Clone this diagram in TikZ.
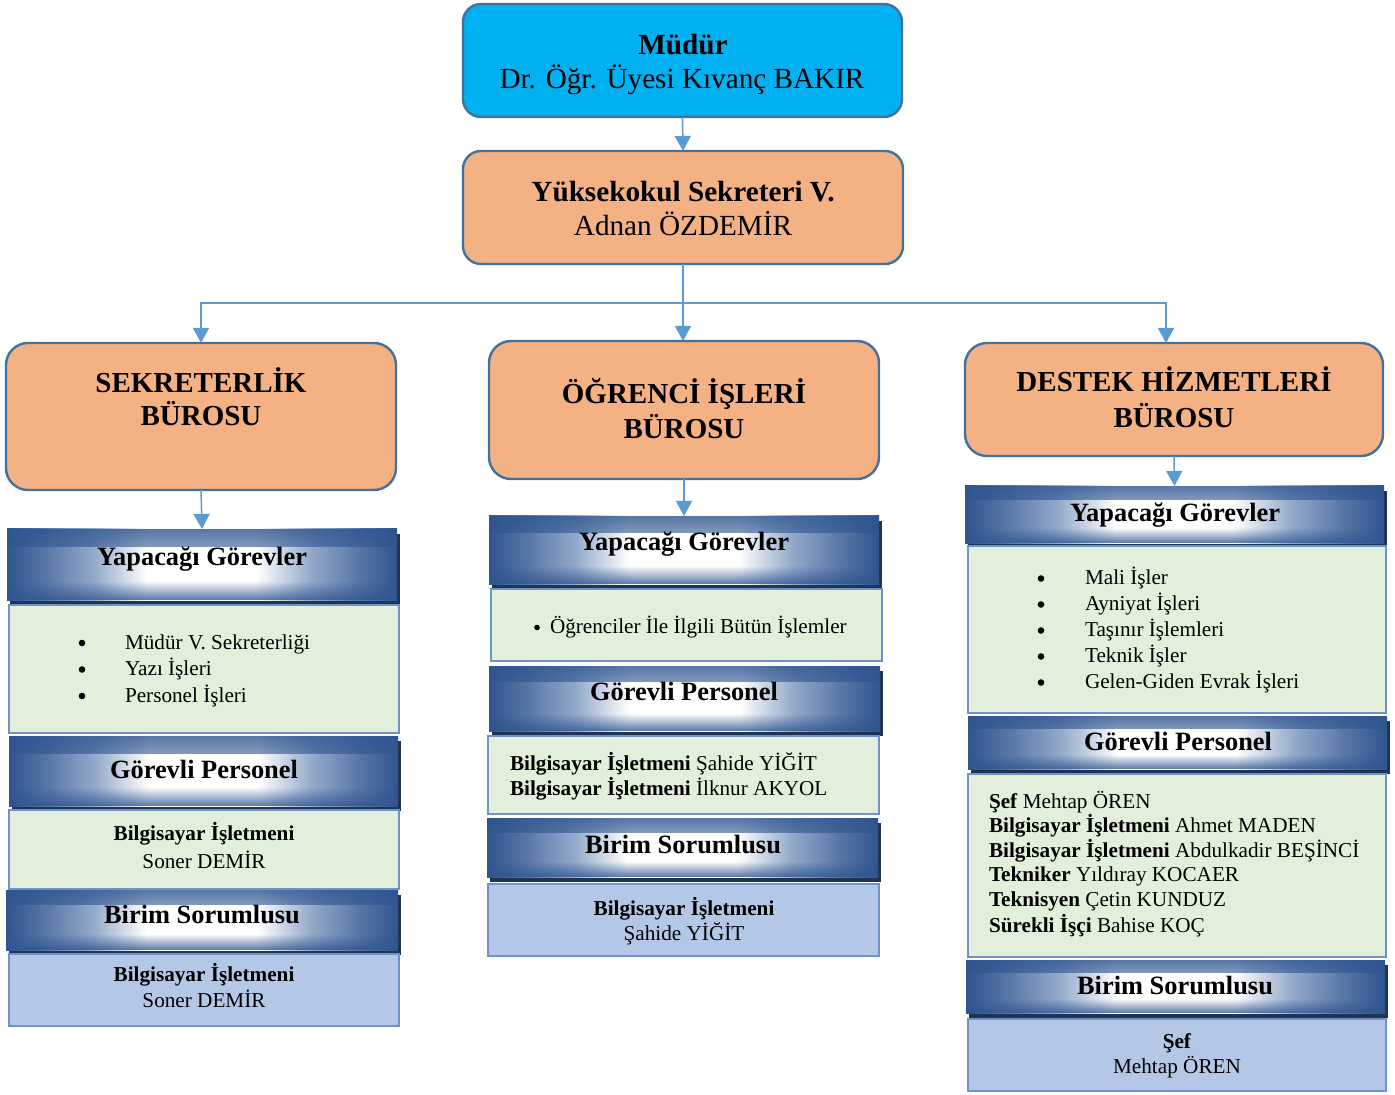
\documentclass[tikz,border=0pt]{standalone}
\usepackage{fontspec}
\setmainfont{Liberation Serif}
\usetikzlibrary{fadings,shadows,calc,arrows.meta}
\definecolor{cyanbox}{HTML}{00B0F0}
\definecolor{orangebox}{HTML}{F4B183}
\definecolor{boxborder}{HTML}{41719C}
\definecolor{arrowc}{HTML}{5B9BD5}
\definecolor{greenbox}{HTML}{E2EFDA}
\definecolor{bluebox}{HTML}{B4C7E7}
\definecolor{hbdark}{HTML}{2F5590}
\definecolor{hbmid}{HTML}{92A8CA}
\definecolor{hshadow}{HTML}{1F3352}
\definecolor{thinborder}{HTML}{6F93C8}
\pgfdeclarehorizontalshading{hbar}{100bp}{color(0bp)=(hbdark); color(25bp)=(hbdark); color(30bp)=(hbdark!80!white); color(36bp)=(hbmid); color(43bp)=(white); color(57bp)=(white); color(64bp)=(hbmid); color(70bp)=(hbdark!80!white); color(75bp)=(hbdark); color(100bp)=(hbdark)}
\tikzfading[name=fadedown, top color=transparent!0, bottom color=transparent!100]
\tikzfading[name=fadeup, top color=transparent!100, bottom color=transparent!0]
\newcommand\mybox[7]{\node[#6, minimum width={(#4-#2)*0.5pt}, minimum height={(#5-#3)*0.5pt}] (#1) at ({(#2+#4)/2},{(#3+#5)/2}) {#7};}
\tikzset{
  every node/.style={inner sep=0pt, outer sep=0pt},
  topbox/.style={draw=boxborder, line width=1.2pt, rounded corners=9pt},
  burobox/.style={draw=boxborder, line width=1.2pt, rounded corners=11pt, fill=orangebox},
  greenrect/.style={draw=thinborder, line width=0.9pt, fill=greenbox},
  bluerect/.style={draw=thinborder, line width=0.9pt, fill=bluebox},
  hdr/.style={shading=hbar, general shadow={fill=hshadow, shadow xshift=1.5pt, shadow yshift=-2.5pt},
    path picture={
      \fill[hbdark, opacity=0.8, path fading=fadedown] (path picture bounding box.north west) rectangle ($(path picture bounding box.north east)!0.25!(path picture bounding box.south east)$);
      \fill[hbdark, opacity=0.8, path fading=fadeup] (path picture bounding box.south west) rectangle ($(path picture bounding box.south east)!0.27!(path picture bounding box.north east)$);
    }},
  conn/.style={draw=arrowc, line width=0.75pt},
  arr/.style={conn, -{Triangle[width=8pt,length=7.5pt]}},
  ttop/.style={anchor=base, font=\fontsize{14.6}{17}\selectfont},
  tburo/.style={anchor=base, font=\fontsize{14.5}{17}\selectfont\bfseries},
  thdr/.style={anchor=base, font=\fontsize{13.2}{15}\selectfont\bfseries},
  tbody/.style={anchor=base, font=\fontsize{10.6}{13}\selectfont},
  tleft/.style={anchor=base west, font=\fontsize{10.6}{13}\selectfont},
  bul/.style={circle, fill=black, minimum size=3.3pt},
  bulsm/.style={circle, fill=black, minimum size=2.8pt},
}
\begin{document}
\begin{tikzpicture}[x=0.5pt,y=-0.5pt]
\useasboundingbox (0,0) rectangle (1395,1095);
% top boxes
\mybox{mudur}{463}{4}{902}{117}{topbox, fill=cyanbox}{}
\node[ttop] (mudurA) at (683,55) {\textbf{Müdür}};
\node[ttop] (mudurB) at (682,89) {Dr. Öğr. Üyesi Kıvanç BAKIR};
\mybox{sek}{463}{151}{903}{264}{topbox, fill=orangebox}{}
\node[ttop] (sekA) at (683,202) {\textbf{Yüksekokul Sekreteri V.}};
\node[ttop] (sekB) at (683,235.5) {Adnan ÖZDEMİR};
% buro boxes
\mybox{b1}{6}{343}{396}{490}{burobox}{}
\node[tburo] (b1A) at (201,393) {SEKRETERLİK};
\node[tburo] (b1B) at (201,426) {BÜROSU};
\mybox{b2}{489}{341}{879}{479}{burobox}{}
\node[tburo] (b2A) at (684,404) {ÖĞRENCİ İŞLERİ};
\node[tburo] (b2B) at (684,439) {BÜROSU};
\mybox{b3}{965}{343}{1383}{456}{burobox}{}
\node[tburo] (b3A) at (1174,392) {DESTEK HİZMETLERİ};
\node[tburo] (b3B) at (1174,428) {BÜROSU};
% connectors top
\draw[arr] (mudur.south) -- (sek.north);
\coordinate (junc) at (683,303);
\coordinate (b3in) at (1166,343);
\draw[conn] (sek.south) -- (junc);
\draw[arr] (junc) -| (b1.north);
\draw[arr] (junc) -| (b3in);
\draw[arr] (junc) -- (junc |- b2.north);
% ===== left column
\mybox{h1a}{7}{529}{397}{600}{hdr}{}
\node[thdr] (h1aT) at (202,565) {Yapacağı Görevler};
\mybox{g1a}{9}{605}{399}{733}{greenrect}{}
\node[bul] (g1a1b) at (82,643) {};
\node[tleft] (g1a1) at (125,649) {Müdür V. Sekreterliği};
\node[bul] (g1a2b) at (82,669.5) {};
\node[tleft] (g1a2) at (125,675.5) {Yazı İşleri};
\node[bul] (g1a3b) at (82,696) {};
\node[tleft] (g1a3) at (125,702) {Personel İşleri};
\mybox{h1b}{9}{736}{398}{806}{hdr}{}
\node[thdr] (h1bT) at (204,778) {Görevli Personel};
\mybox{g1b}{9}{810}{399}{889}{greenrect}{}
\node[tbody] (g1b1) at (204,840.5) {\textbf{Bilgisayar İşletmeni}};
\node[tbody] (g1b2) at (204,868.5) {Soner DEMİR};
\mybox{h1c}{6}{890}{398}{950}{hdr}{}
\node[thdr] (h1cT) at (202,923) {Birim Sorumlusu};
\mybox{bl1}{9}{954}{399}{1026}{bluerect}{}
\node[tbody] (bl1a) at (204,981.5) {\textbf{Bilgisayar İşletmeni}};
\node[tbody] (bl1b) at (204,1007.5) {Soner DEMİR};
\draw[arr] (b1.south) -- (h1a.north);
% ===== middle column
\mybox{h2a}{489}{516}{879}{584}{hdr}{}
\node[thdr] (h2aT) at (684,551) {Yapacağı Görevler};
\mybox{g2a}{491}{589}{882}{661}{greenrect}{}
\node[bulsm] (g2a1b) at (537,627.5) {};
\node[tleft] (g2a1) at (550,633.5) {Öğrenciler İle İlgili Bütün İşlemler};
\mybox{h2b}{489}{666}{880}{731}{hdr}{}
\node[thdr] (h2bT) at (684,700) {Görevli Personel};
\mybox{g2b}{488}{736}{879}{814}{greenrect}{}
\node[tleft] (g2b1) at (510,770.5) {\textbf{Bilgisayar İşletmeni} Şahide YİĞİT};
\node[tleft] (g2b2) at (510,795.5) {\textbf{Bilgisayar İşletmeni} İlknur AKYOL};
\mybox{h2c}{487}{818}{878}{877}{hdr}{}
\node[thdr] (h2cT) at (683,853) {Birim Sorumlusu};
\mybox{bl2}{488}{884}{879}{956}{bluerect}{}
\node[tbody] (bl2a) at (684,915.5) {\textbf{Bilgisayar İşletmeni}};
\node[tbody] (bl2b) at (684,940.5) {Şahide YİĞİT};
\draw[arr] (b2.south) -- (h2a.north);
% ===== right column
\mybox{h3a}{965}{486}{1384}{543}{hdr}{}
\node[thdr] (h3aT) at (1175,522) {Yapacağı Görevler};
\mybox{g3a}{968}{546}{1386}{713}{greenrect}{}
\node[bul] (g3a1b) at (1041,578.5) {};
\node[tleft] (g3a1) at (1085,584.5) {Mali İşler};
\node[bul] (g3a2b) at (1041,604.5) {};
\node[tleft] (g3a2) at (1085,610.5) {Ayniyat İşleri};
\node[bul] (g3a3b) at (1041,630.5) {};
\node[tleft] (g3a3) at (1085,636.5) {Taşınır İşlemleri};
\node[bul] (g3a4b) at (1041,656.5) {};
\node[tleft] (g3a4) at (1085,662.5) {Teknik İşler};
\node[bul] (g3a5b) at (1041,682.5) {};
\node[tleft] (g3a5) at (1085,688.5) {Gelen-Giden Evrak İşleri};
\mybox{h3b}{968}{716}{1387}{769}{hdr}{}
\node[thdr] (h3bT) at (1178,750) {Görevli Personel};
\mybox{g3b}{968}{774}{1386}{957}{greenrect}{}
\node[tleft] (g3b1) at (989,808.5) {\textbf{Şef} Mehtap ÖREN};
\node[tleft] (g3b2) at (989,832.5) {\textbf{Bilgisayar İşletmeni} Ahmet MADEN};
\node[tleft] (g3b3) at (989,857.5) {\textbf{Bilgisayar İşletmeni} Abdulkadir BEŞİNCİ};
\node[tleft] (g3b4) at (989,881.5) {\textbf{Tekniker} Yıldıray KOCAER};
\node[tleft] (g3b5) at (989,906.5) {\textbf{Teknisyen} Çetin KUNDUZ};
\node[tleft] (g3b6) at (989,932.5) {\textbf{Sürekli İşçi} Bahise KOÇ};
\mybox{h3c}{966}{960}{1385}{1013}{hdr}{}
\node[thdr] (h3cT) at (1175,994) {Birim Sorumlusu};
\mybox{bl3}{968}{1019}{1386}{1091}{bluerect}{}
\node[tbody] (bl3a) at (1177,1048.5) {\textbf{Şef}};
\node[tbody] (bl3b) at (1177,1073.5) {Mehtap ÖREN};
\draw[arr] (b3.south) -- (h3a.north);
\end{tikzpicture}
\end{document}
